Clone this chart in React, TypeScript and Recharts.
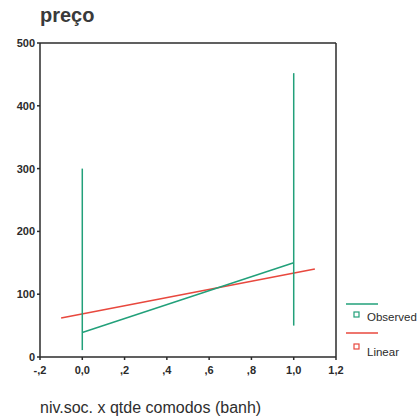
import { ComposedChart, Line, XAxis, YAxis, ReferenceLine } from 'recharts';

// observed: vertical spread at each x, plus line joining the two points
const observedLow = [
  { x: 0, y: 300 },
  { x: 0, y: 11 },
];
const observedHigh = [
  { x: 1, y: 452 },
  { x: 1, y: 50 },
];
const observedMean = [
  { x: 0, y: 39 },
  { x: 1, y: 150 },
];
const linearFit = [
  { x: -0.1, y: 62 },
  { x: 1.1, y: 140 },
];

const xTicks = [-0.2, 0, 0.2, 0.4, 0.6, 0.8, 1.0, 1.2];
const yTicks = [0, 100, 200, 300, 400, 500];

const GREEN = '#22a07a';
const RED = '#e8483e';
const INK = '#2b2b2b';
const FONT = '"Liberation Sans", Arial, sans-serif';

const fmtX = (v: number) => {
  let s = v.toFixed(1);
  if (v !== 0 && Math.abs(v) < 1) s = s.replace('0.', '.');
  return s.replace('.', ',');
};

const LegendBox = () => (
  <svg width={72} height={62} style={{ position: 'absolute', left: 346, top: 298, overflow: 'visible' }}>
    <line x1={0} y1={6} x2={32} y2={6} stroke={GREEN} strokeWidth={1.5} />
    <rect x={8} y={14} width={5} height={5} fill="none" stroke={GREEN} strokeWidth={1.2} />
    <text x={21} y={23} fill={INK} fontSize={11.5} fontFamily={FONT}>Observed</text>
    <line x1={0} y1={35} x2={32} y2={35} stroke={RED} strokeWidth={1.5} />
    <rect x={8} y={46} width={5} height={5} fill="none" stroke={RED} strokeWidth={1.2} />
    <text x={21} y={58} fill={INK} fontSize={11.5} fontFamily={FONT}>Linear</text>
  </svg>
);

export default function App() {
  return (
    <div
      style={{
        position: 'absolute',
        left: 0,
        top: 0,
        width: 418,
        height: 420,
        overflow: 'hidden',
        background: '#fff',
        fontFamily: FONT,
      }}
    >
      <div style={{ position: 'absolute', left: 40, top: 4, fontSize: 20, fontWeight: 'bold', color: '#3a3a3a' }}>
        preço
      </div>
      <div style={{ position: 'absolute', left: 40, top: 399, fontSize: 16, color: '#2e2e2e' }}>
        niv.soc. x qtde comodos (banh)
      </div>
      <ComposedChart width={418} height={420} margin={{ top: 43, right: 82, bottom: 43, left: 0 }}>
        <XAxis
          type="number"
          dataKey="x"
          domain={[-0.2, 1.2]}
          ticks={xTicks}
          tickFormatter={fmtX}
          allowDataOverflow
          stroke={INK}
          strokeWidth={1.5}
          tickSize={3}
          tickMargin={6}
          height={20}
          tick={{ fill: INK, fontSize: 11, fontWeight: 'bold', fontFamily: FONT }}
        />
        <YAxis
          type="number"
          dataKey="y"
          domain={[0, 500]}
          ticks={yTicks}
          width={40}
          stroke={INK}
          strokeWidth={1.5}
          tickSize={3}
          tickMargin={2}
          tick={{ fill: INK, fontSize: 11, fontWeight: 'bold', fontFamily: FONT }}
        />
        <ReferenceLine y={500} stroke={INK} strokeWidth={1.5} />
        <ReferenceLine x={1.2} stroke={INK} strokeWidth={1.5} />
        <Line data={linearFit} dataKey="y" stroke={RED} strokeWidth={1.5} dot={false} isAnimationActive={false} legendType="none" />
        <Line data={observedLow} dataKey="y" stroke={GREEN} strokeWidth={1.5} dot={false} isAnimationActive={false} legendType="none" />
        <Line data={observedHigh} dataKey="y" stroke={GREEN} strokeWidth={1.5} dot={false} isAnimationActive={false} legendType="none" />
        <Line data={observedMean} dataKey="y" stroke={GREEN} strokeWidth={1.5} dot={false} isAnimationActive={false} legendType="none" />
      </ComposedChart>
      <LegendBox />
    </div>
  );
}
